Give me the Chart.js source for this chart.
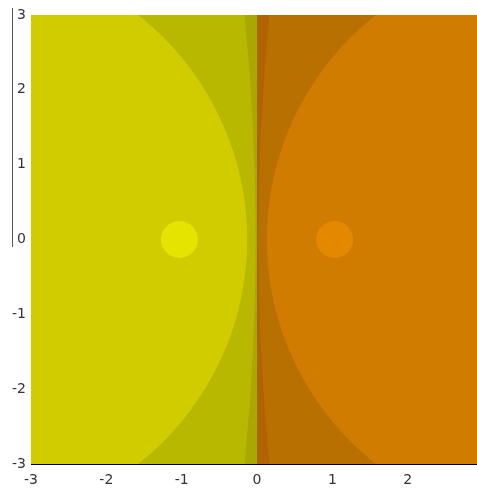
<!DOCTYPE html>
<html><head><meta charset="utf-8">
<script src="https://cdn.jsdelivr.net/npm/chart.js@4/dist/chart.umd.min.js"></script>
<style>
html,body{margin:0;padding:0;overflow:hidden;background:#fff;width:477px;height:490px;}
#wrap{position:absolute;left:0;top:0;width:490px;height:490px;}
#vline{position:absolute;left:12px;top:8px;width:1px;height:239px;background:#555;}
</style></head><body>
<div id="wrap"><canvas id="c" width="490" height="490"></canvas></div>
<div id="vline"></div>
<script>
// ---- data ----
const xTicks = [-3, -2, -1, 0, 1, 2, 3];
const yTicks = [-3, -2, -1, 0, 1, 2, 3];
const axisMin = -3, axisMax = 3;
const splitX = 0;                          // boundary between the two halves
const leftCentersX  = [-30, -3.92, -1.03]; // contour circles around the left source
const leftRadii     = [29.983, 3.79, 0.246];
const rightCentersX = [30, 3.92, 1.03];    // contour circles around the right source
const rightRadii    = [29.983, 3.79, 0.246];
const centersY = [0, 0, 0];

// ---- styles ----
const halfColors  = ['#a8a800', '#b06400'];
const leftColors  = ['#b8b800', '#d0cc00', '#e4e400'];
const rightColors = ['#b87000', '#d07c00', '#e48800'];

const radiusFromScale = ctx => {
  const s = ctx.chart.scales.x;
  const r = ctx.raw ? ctx.raw.rad : 0;
  const v = Math.abs(s.getPixelForValue(r) - s.getPixelForValue(0));
  return isFinite(v) ? v : 0;
};

const datasets = [];
for (let i = 0; i < leftCentersX.length; i++) {
  [[leftCentersX, leftRadii, leftColors], [rightCentersX, rightRadii, rightColors]].forEach(([cx, rr, cols]) => {
    datasets.push({
      data: [{ x: cx[i], y: centersY[i], rad: rr[i] }],
      showLine: false,
      pointBackgroundColor: cols[i],
      pointBorderWidth: 0,
      pointHoverBorderWidth: 0,
      pointRadius: radiusFromScale,
      pointHoverRadius: radiusFromScale,
      clip: 0,
      order: leftCentersX.length - i
    });
  });
}

const halvesPlugin = {
  id: 'halves',
  beforeDatasetsDraw(chart) {
    const { ctx, chartArea: a, scales: { x } } = chart;
    const sx = x.getPixelForValue(splitX);
    ctx.save();
    ctx.fillStyle = halfColors[0];
    ctx.fillRect(a.left, a.top, sx - a.left, a.bottom - a.top);
    ctx.fillStyle = halfColors[1];
    ctx.fillRect(sx, a.top, a.right - sx, a.bottom - a.top);
    ctx.restore();
  }
};

const tickFont = { family: 'DejaVu Sans', size: 14 };

new Chart(document.getElementById('c'), {
  type: 'scatter',
  data: { datasets },
  plugins: [halvesPlugin],
  options: {
    responsive: false,
    animation: false,
    events: [],
    layout: { padding: { top: 15, right: 7, left: 0, bottom: 0 } },
    plugins: { legend: { display: false }, tooltip: { enabled: false } },
    scales: {
      x: {
        type: 'linear', min: axisMin, max: axisMax, z: 1,
        afterBuildTicks: s => { s.ticks = xTicks.map(v => ({ value: v })); },
        afterFit: s => { s.height = 26; s.paddingLeft = 0; s.paddingRight = 0; },
        grid: { display: false, drawTicks: false },
        border: { display: true, color: '#000', width: 1 },
        ticks: { font: tickFont, color: '#333', padding: 8, maxRotation: 0, autoSkip: false }
      },
      y: {
        type: 'linear', min: axisMin, max: axisMax, z: 1,
        afterBuildTicks: s => { s.ticks = yTicks.map(v => ({ value: v })); },
        afterFit: s => { s.width = 31; s.paddingTop = 0; s.paddingBottom = 0; },
        grid: { display: false, drawTicks: false },
        border: { display: true, color: '#000', width: 1 },
        ticks: { font: tickFont, color: '#333', padding: 5, autoSkip: false }
      }
    }
  }
});
</script>
</body></html>
